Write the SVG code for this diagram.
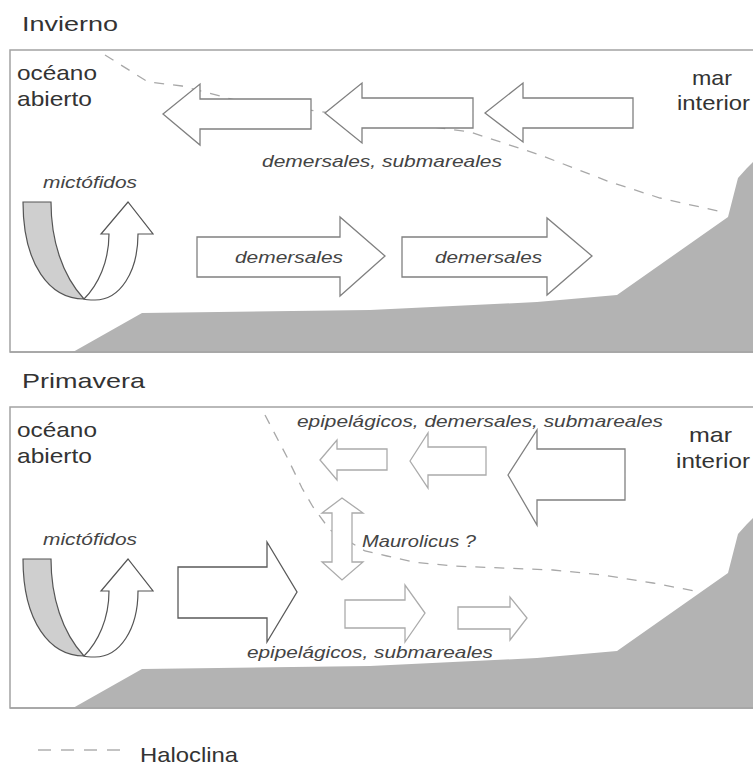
<svg xmlns="http://www.w3.org/2000/svg" width="753" height="765" viewBox="0 0 753 765">
<defs>
<style>
.t{font-family:"Liberation Sans",Arial,sans-serif;fill:#333;font-size:21px}
.i{font-family:"Liberation Sans",Arial,sans-serif;fill:#444;font-size:17px;font-style:italic}
.box{fill:#fff;stroke:#a3a3a3;stroke-width:1.5}
.bed{fill:#b3b3b3;stroke:none}
.halo{fill:none;stroke:#a8a8a8;stroke-width:1.3;stroke-dasharray:10 9}
.am{fill:#fff;stroke:#808080;stroke-width:1.3;stroke-linejoin:miter}
.al{fill:#fff;stroke:#ababab;stroke-width:1.3}
.ad{fill:#fff;stroke:#5a5a5a;stroke-width:1.3}
.ug{fill:#cfcfcf;stroke:#555;stroke-width:1.2}
.uw{fill:#fff;stroke:#555;stroke-width:1.2}
</style>
<path id="seabed" d="M73,352 L142,313 L370,310 L537,302 L617,295 L728,217 L738,178 L747,168 L753,162 L753,352 Z"/>
<g id="uturn">
<path class="ug" d="M23,202 L51,202 C51,240 62,275 84,299 C50,299 23,265 23,202 Z"/>
<path class="uw" d="M84,299 C98,285 109,262 109,234 L101,234 L128,202 L153,234 L138,234 C138,272 120,300 95,300 C90,300 86,300 84,299 Z"/>
</g>
</defs>

<g id="panel-invierno">
<text class="t" x="22" y="31" font-size="22" textLength="96" lengthAdjust="spacingAndGlyphs">Invierno</text>
<rect class="box" x="10" y="50" width="760" height="302"/>
<use href="#seabed" class="bed"/>
<line x1="10" y1="352" x2="753" y2="352" stroke="#a3a3a3" stroke-width="1.5"/>
</g>

<g id="panel-primavera">
<text class="t" x="22" y="388" font-size="22" textLength="123" lengthAdjust="spacingAndGlyphs">Primavera</text>
<rect class="box" x="10" y="407" width="760" height="301"/>
<use href="#seabed" class="bed" transform="translate(0,356)"/>
<line x1="10" y1="708" x2="753" y2="708" stroke="#a3a3a3" stroke-width="1.5"/>
</g>

<g id="connectors">
<path id="haloclina-invierno" class="halo" d="M105,55 L148,82 L182,86 L235,100 L470,132 L540,155 L610,182 L660,198 L718,211"/>
<path id="haloclina-primavera" class="halo" d="M265,415 L287,457 L302,488 L313,507 L330,530 L365,551 L387,556 L413,562 L453,566 L553,570 L603,575 L653,583 L700,592"/>
</g>

<g id="labels-invierno">
<text class="t" x="17" y="80" textLength="80" lengthAdjust="spacingAndGlyphs">océano</text>
<text class="t" x="17" y="106" textLength="75" lengthAdjust="spacingAndGlyphs">abierto</text>
<text class="t" x="692" y="85" textLength="40" lengthAdjust="spacingAndGlyphs">mar</text>
<text class="t" x="677" y="110" textLength="73" lengthAdjust="spacingAndGlyphs">interior</text>
</g>

<g id="arrow-inv-a"><polygon class="am" points="163,114 200,84 200,99 311,99 311,129 200,129 200,145"/></g>
<g id="arrow-inv-b"><polygon class="am" points="325,113 362,83 362,98 473,98 473,128 362,128 362,143"/></g>
<g id="arrow-inv-c"><polygon class="am" points="485,113 523,83 523,98 633,98 633,128 523,128 523,142"/></g>
<g id="label-inv-top"><text class="i" x="262" y="167" textLength="240" lengthAdjust="spacingAndGlyphs">demersales, submareales</text></g>

<g id="mictofidos-inv">
<use href="#uturn"/>
<text class="i" x="43" y="188" textLength="94" lengthAdjust="spacingAndGlyphs">mictófidos</text>
</g>

<g id="arrow-inv-j">
<polygon class="am" points="197,237 340,237 340,217 385,256 340,296 340,277 197,277"/>
<text class="i" x="235" y="263" textLength="108" lengthAdjust="spacingAndGlyphs">demersales</text>
</g>
<g id="arrow-inv-k">
<polygon class="am" points="402,237 547,237 547,218 592,256 547,295 547,277 402,277"/>
<text class="i" x="435" y="263" textLength="107" lengthAdjust="spacingAndGlyphs">demersales</text>
</g>

<g id="labels-primavera">
<text class="t" x="17" y="437" textLength="80" lengthAdjust="spacingAndGlyphs">océano</text>
<text class="t" x="17" y="463" textLength="75" lengthAdjust="spacingAndGlyphs">abierto</text>
<text class="t" x="689" y="442" textLength="43" lengthAdjust="spacingAndGlyphs">mar</text>
<text class="t" x="676" y="468" textLength="74" lengthAdjust="spacingAndGlyphs">interior</text>
</g>

<g id="arrow-pri-d"><polygon class="al" points="320,460 337,440 337,449 387,449 387,470 337,470 337,480"/></g>
<g id="arrow-pri-e"><polygon class="al" points="410,461 428,433 428,447 486,447 486,475 428,475 428,488"/></g>
<g id="arrow-pri-f"><polygon class="am" points="508,475 537,430 537,449 625,449 625,500 537,500 537,525"/></g>
<g id="label-pri-top"><text class="i" x="297" y="427" textLength="366" lengthAdjust="spacingAndGlyphs">epipelágicos, demersales, submareales</text></g>

<g id="maurolicus">
<polygon class="al" points="342,498 363,513 352,513 352,562 363,562 342,580 322,562 332,562 332,513 322,513"/>
<text class="i" x="362" y="547" textLength="114" lengthAdjust="spacingAndGlyphs">Maurolicus ?</text>
</g>

<g id="mictofidos-pri">
<use href="#uturn" transform="translate(0,357)"/>
<text class="i" x="43" y="545" textLength="94" lengthAdjust="spacingAndGlyphs">mictófidos</text>
</g>

<g id="arrow-pri-g"><polygon class="ad" points="178,567 267,567 267,542 297,592 267,642 267,618 178,618"/></g>
<g id="arrow-pri-h"><polygon class="al" points="345,600 405,600 405,585 425,613 405,642 405,628 345,628"/></g>
<g id="arrow-pri-i"><polygon class="al" points="458,607 510,607 510,597 527,618 510,640 510,629 458,629"/></g>
<g id="label-pri-bottom"><text class="i" x="247" y="658" textLength="246" lengthAdjust="spacingAndGlyphs">epipelágicos, submareales</text></g>

<g id="legend">
<line x1="38" y1="750" x2="123" y2="750" stroke="#b0b0b0" stroke-width="1.5" stroke-dasharray="13 10"/>
<text class="t" x="140" y="762" textLength="98" lengthAdjust="spacingAndGlyphs">Haloclina</text>
</g>
</svg>
